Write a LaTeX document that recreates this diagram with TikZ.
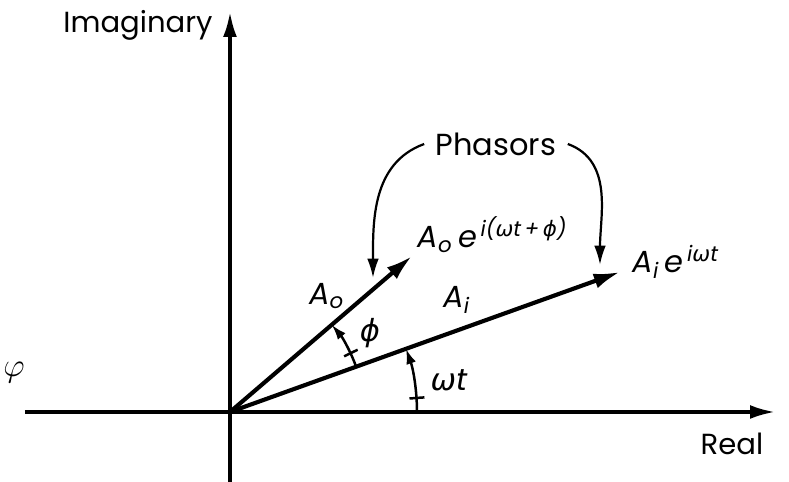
\documentclass[tikz,border=0pt]{standalone}
\usepackage{fontspec}
\setmainfont{Poppins}
\newfontfamily\greekfont{DejaVu Sans}
\usetikzlibrary{arrows.meta, positioning, calc}
\newcommand{\gr}[1]{{\greekfont\itshape #1}}

\begin{document}
\begin{tikzpicture}[
    x=0.0127cm, y=0.0127cm,
    axis/.style={line width=1.2pt, -{Latex[length=9pt, width=5pt]}},
    vec/.style={line width=1.5pt, -{Latex[length=9.5pt, width=5.5pt]}},
    anglearc/.style={line width=0.9pt, -{Latex[length=5.5pt, width=3.6pt]}},
    tickmark/.style={line width=0.9pt},
    callout/.style={line width=0.8pt, -{Latex[length=7pt, width=4.2pt]}},
    axislabel/.style={font=\fontsize{10.5}{12}\selectfont, inner sep=0pt, anchor=base},
    veclabel/.style={font=\fontsize{11}{13}\selectfont\itshape, inner sep=0pt},
  ]
  \useasboundingbox (-230,-70) rectangle (559,412);

  % axes
  \coordinate (O) at (0,0);
  \coordinate (xleft) at (-205,0);
  \coordinate (xend) at (545,0);
  \coordinate (ybot) at (0,-70);
  \coordinate (yend) at (0,400);
  \draw[axis] (xleft) -- (xend);
  \draw[axis] (ybot) -- (yend);
  \node[axislabel] (imag) at (-92,379) {Imaginary};
  \node[axislabel] (real) at (502,-43) {Real};

  % phasors
  \coordinate (Ai) at (390,140);
  \coordinate (Ao) at (182,156);
  \draw[vec] (O) -- (Ai);
  \draw[vec] (O) -- (Ao);
  \node[veclabel] (Ailbl) at (227,112) {A\textsubscript{i}};
  \node[veclabel] (Aolbl) at (97,116) {A\textsubscript{o}};
  \node[veclabel, anchor=base west] (Aieq) at ($(Ai)+(12,-1)$)
    {A\textsubscript{i}\,e\textsuperscript{\,i\gr{ω}t}};
  \node[veclabel, anchor=base west] (Aoeq) at ($(Ao)+(5,8)$)
    {A\textsubscript{o}\,e\textsuperscript{\,i(\gr{ω}t\,+\,\gr{ϕ})}};

  % angles
  \draw[anglearc] (0:187) arc[start angle=0, end angle=19.75, radius=187];
  \draw[tickmark] (4.3:180) -- (4.3:195);
  \node[veclabel] (wt) at (219,32) {\gr{ω}t};
  \draw[anglearc] (19.75:134) arc[start angle=19.75, end angle=40.6, radius=134];
  \draw[tickmark] (26:127) -- (26:142);
  \node[veclabel] (phi) at (140,79) {\gr{ϕ}};

  % callout
  \node[font=\fontsize{11}{13}\selectfont, inner sep=4pt] (phasors) at (266,268) {Phasors};
  \coordinate (Aohit) at (143,134);
  \coordinate (Aihit) at (370,147);
  \draw[callout] (phasors.west) to[out=200, in=90] (Aohit);
  \draw[callout] (phasors.east) to[out=-20, in=90] (Aihit);

  \node[inner sep=0pt] (varphi) at (-216,39) {\fontsize{13}{15}\selectfont$\varphi$};
\end{tikzpicture}
\end{document}
